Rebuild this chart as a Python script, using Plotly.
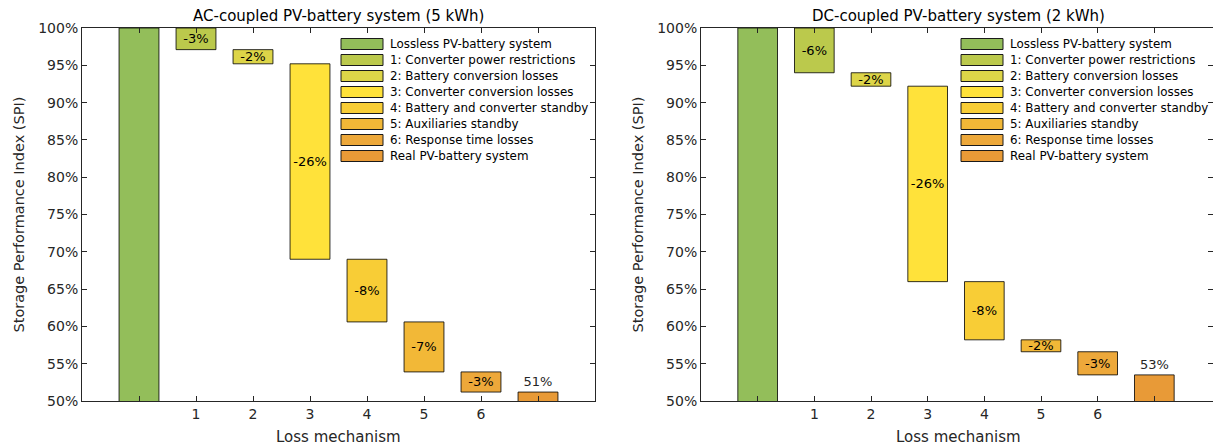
import plotly.graph_objects as go

# ---------------- data ----------------
legend_names = [
    "Lossless PV-battery system",
    "1: Converter power restrictions",
    "2: Battery conversion losses",
    "3: Converter conversion losses",
    "4: Battery and converter standby",
    "5: Auxiliaries standby",
    "6: Response time losses",
    "Real PV-battery system",
]
bar_colors = ["#93BE5A", "#BBC94C", "#DDD548", "#FFE23A",
              "#F8CD36", "#F2B837", "#EDA83A", "#E89A37"]

x_tick_labels = ["", "1", "2", "3", "4", "5", "6", ""]

ac_title = "AC-coupled PV-battery system (5 kWh)"
ac_start = 100.0
ac_losses = [2.9, 1.9, 26.2, 8.4, 6.7, 2.7]
ac_loss_labels = ["-3%", "-2%", "-26%", "-8%", "-7%", "-3%"]
ac_final_label = "51%"

dc_title = "DC-coupled PV-battery system (2 kWh)"
dc_start = 100.0
dc_losses = [6.0, 1.8, 26.2, 7.8, 1.6, 3.1]
dc_loss_labels = ["-6%", "-2%", "-26%", "-8%", "-2%", "-3%"]
dc_final_label = "53%"

y_tick_vals = [50, 55, 60, 65, 70, 75, 80, 85, 90, 95, 100]
y_tick_text = [f"{v}%" for v in y_tick_vals]

W, H = 1213, 445
FONT = "DejaVu Sans, Verdana, sans-serif"
AXC = "#262626"

fig = go.Figure()


def add_waterfall(start, losses, loss_labels, final_label, xa, ya):
    levels = [start]
    for l in losses:
        levels.append(levels[-1] - l)
    xs = list(range(len(losses) + 2))
    bases = [0] + levels[1:] + [0]
    heights = [start] + losses + [levels[-1]]
    texts = [""] + loss_labels + [final_label]
    tpos = ["none"] + ["inside"] * len(losses) + ["outside"]
    fig.add_trace(go.Bar(
        x=xs, y=heights, base=bases,
        marker=dict(color=bar_colors,
                    line=dict(color="rgba(0,0,0,0.8)", width=1)),
        width=0.7,
        text=texts, textposition=tpos,
        insidetextanchor="middle",
        textangle=0,
        constraintext="none",
        textfont=dict(family=FONT, size=13, color="#000000"),
        outsidetextfont=dict(family=FONT, size=13, color="#262626"),
        cliponaxis=True,
        showlegend=False,
        xaxis=xa, yaxis=ya,
        hoverinfo="skip",
    ))


add_waterfall(ac_start, ac_losses, ac_loss_labels, ac_final_label, "x", "y")
add_waterfall(dc_start, dc_losses, dc_loss_labels, dc_final_label, "x2", "y2")

# domains in pixels
L1, R1 = 82, 595
L2, R2 = 701, 1215
T, B = 28, 401


def px(x):
    return x / W


def py(y):
    return 1 - y / H


xcommon = dict(range=[-1, 8], tickvals=list(range(8)), ticktext=x_tick_labels,
               ticks="inside", ticklen=5, tickcolor=AXC, showline=True,
               linecolor=AXC, linewidth=1, mirror="ticks", showgrid=False,
               zeroline=False, tickfont=dict(family=FONT, size=14, color=AXC),
               fixedrange=True, automargin=False)
ycommon = dict(range=[50, 100], tickvals=y_tick_vals, ticktext=y_tick_text,
               ticks="inside", ticklen=5, tickcolor=AXC, showline=True,
               linecolor=AXC, linewidth=1, mirror="ticks", showgrid=False,
               zeroline=False, tickfont=dict(family=FONT, size=14, color=AXC),
               fixedrange=True, automargin=False)

fig.update_layout(
    width=W, height=H,
    autosize=False,
    margin=dict(l=0, r=0, t=0, b=0, pad=0, autoexpand=False),
    paper_bgcolor="white", plot_bgcolor="white",
    font=dict(family=FONT, color=AXC),
    bargap=0.3,
    xaxis=dict(domain=[px(L1), px(R1)], anchor="y", **xcommon),
    yaxis=dict(domain=[py(B), py(T)], anchor="x", **ycommon),
    xaxis2=dict(domain=[px(L2), min(1.0, px(R2))], anchor="y2", **xcommon),
    yaxis2=dict(domain=[py(B), py(T)], anchor="x2", **ycommon),
)
# allow the right panel to extend slightly past the window edge as in the reference
fig.layout.xaxis2.domain = [px(L2), 1.0]
fig.layout.xaxis2.range = [-1, 8 + (R2 - W) / ((W - L2) / 9.0)]

annotations = []
shapes = []
for (L, R, title) in [(L1, R1, ac_title), (L2, R2, dc_title)]:
    annotations.append(dict(x=px((L + R) / 2), y=py(16), xref="paper", yref="paper",
                            text=title, showarrow=False, xanchor="center", yanchor="middle",
                            font=dict(family=FONT, size=15, color="#000000")))
    annotations.append(dict(x=px((L + R) / 2), y=py(437), xref="paper", yref="paper",
                            text="Loss mechanism", showarrow=False, xanchor="center",
                            yanchor="middle", font=dict(family=FONT, size=15, color=AXC)))
    annotations.append(dict(x=px(L - 64), y=py((T + B) / 2), xref="paper", yref="paper",
                            text="Storage Performance Index (SPI)", showarrow=False,
                            textangle=-90, xanchor="center", yanchor="middle",
                            font=dict(family=FONT, size=14.5, color=AXC)))

# manual legends (layout decoration)
for sx in (341, 961):
    for i, (name, col) in enumerate(zip(legend_names, bar_colors)):
        yc = 44 + 16 * i
        shapes.append(dict(type="rect", xref="paper", yref="paper",
                           x0=px(sx), x1=px(sx + 42), y0=py(yc + 5.5), y1=py(yc - 5.5),
                           fillcolor=col, line=dict(color="#1a1a1a", width=1)))
        annotations.append(dict(x=px(sx + 47), y=py(yc), xref="paper", yref="paper",
                                text=name, showarrow=False, xanchor="left", yanchor="middle",
                                font=dict(family=FONT, size=11.9, color="#000000")))

fig.update_layout(annotations=annotations, shapes=shapes)

fig.write_html("out.html",
               config={"displayModeBar": False, "responsive": False},
               post_script="document.body.style.margin='0';document.body.style.padding='0';"
                           "document.body.style.overflow='hidden';")
